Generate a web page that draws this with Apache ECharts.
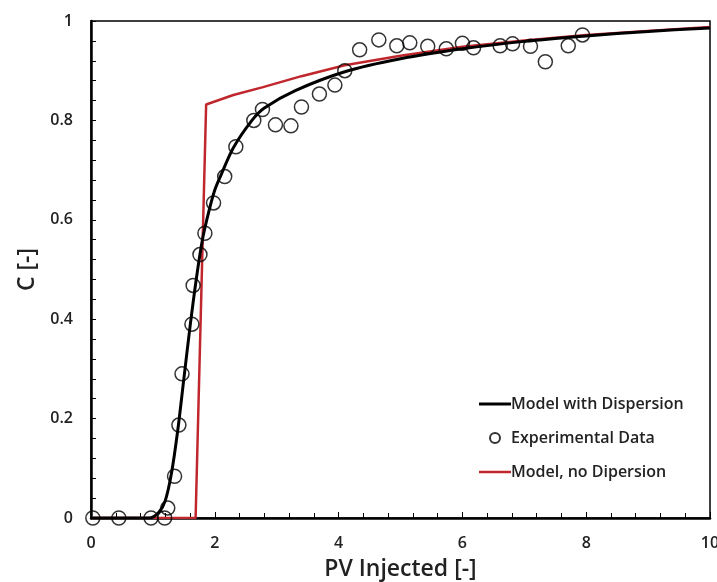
<!DOCTYPE html>
<html>
<head>
<meta charset="utf-8">
<script src="https://cdn.jsdelivr.net/npm/echarts@6/dist/echarts.min.js"></script>
<style>
  html, body { margin: 0; padding: 0; background: #fff; }
  #chart { width: 717px; height: 582px; }
</style>
</head>
<body>
<div id="chart"></div>
<script>
// experimental points
var expX = [0.03, 0.45, 0.97, 1.19, 1.24, 1.35, 1.42, 1.47, 1.63, 1.65, 1.76, 1.84, 1.98, 2.16, 2.34,
            2.63, 2.77, 2.98, 3.23, 3.4, 3.69, 3.94, 4.1, 4.34, 4.65, 4.94, 5.15, 5.44, 5.74, 6.0,
            6.18, 6.61, 6.81, 7.1, 7.34, 7.71, 7.94];
var expC = [0, 0, 0, 0, 0.02, 0.084, 0.187, 0.29, 0.39, 0.468, 0.53, 0.573, 0.634, 0.687, 0.747,
            0.8, 0.822, 0.791, 0.789, 0.827, 0.853, 0.871, 0.9, 0.942, 0.962, 0.95, 0.956, 0.949, 0.944, 0.955,
            0.946, 0.95, 0.954, 0.949, 0.918, 0.95, 0.972];

// model with dispersion
var dispX = [0, 0.95, 1.1, 1.2, 1.3, 1.4, 1.5, 1.6, 1.7, 1.8, 1.9, 2.0, 2.1, 2.3, 2.6, 2.8, 3.3, 4.1, 5, 6, 7, 8, 9, 10];
var dispC = [0, 0, 0.012, 0.035, 0.09, 0.175, 0.28, 0.385, 0.48, 0.56, 0.615, 0.66, 0.69, 0.745, 0.8, 0.825, 0.86, 0.898, 0.924, 0.944, 0.959, 0.97, 0.979, 0.986];

// model without dispersion
var noDispX = [0, 1.69, 1.86, 2.3, 2.78, 3.4, 4.1, 5, 6, 7, 8, 9, 10];
var noDispC = [0, 0, 0.832, 0.851, 0.867, 0.889, 0.911, 0.93, 0.948, 0.961, 0.972, 0.98, 0.988];

function pairs(xs, ys) {
    return xs.map(function (x, i) { return [x, ys[i]]; });
}

var font = '"Open Sans", sans-serif';
var txt = '#222';
var myChart = echarts.init(document.getElementById('chart'));

var option = {
    animation: false,
    grid: {
        left: 91, right: 7, top: 21, bottom: 64,
        outerBoundsMode: 'none',
        show: true,
        borderColor: '#000',
        borderWidth: 1.5
    },
    legend: {
        orient: 'vertical',
        left: 474,
        top: 391,
        itemWidth: 32,
        itemHeight: 10,
        itemGap: 18,
        textStyle: { fontFamily: font, fontSize: 16, fontWeight: 600, color: txt, padding: [0, 0, 0, -5] },
        data: [
            { name: 'Model with Dispersion', icon: 'path://M0,0H32V3H0Z' },
            { name: 'Experimental Data' },
            { name: 'Model, no Dipersion', icon: 'path://M0,0H32V2.5H0Z' }
        ]
    },
    xAxis: {
        type: 'value',
        min: 0, max: 10, interval: 2,
        name: 'PV Injected [-]',
        nameLocation: 'middle',
        nameGap: 40,
        nameTextStyle: { fontFamily: font, fontSize: 23, fontWeight: 600, color: txt },
        axisLine: { show: true, onZero: false, lineStyle: { color: '#000', width: 2.5 } },
        axisTick: { show: true, inside: true, length: 6, lineStyle: { color: '#000', width: 1 } },
        minorTick: { show: true, splitNumber: 5, length: 5, lineStyle: { color: '#000', width: 1 } },
        axisLabel: { fontFamily: font, fontSize: 16, fontWeight: 600, color: txt, margin: 17 },
        splitLine: { show: false }
    },
    yAxis: {
        type: 'value',
        min: 0, max: 1, interval: 0.2,
        name: 'C [-]',
        nameLocation: 'middle',
        nameGap: 47,
        nameTextStyle: { fontFamily: font, fontSize: 23, fontWeight: 600, color: txt },
        axisLine: { show: true, onZero: false, lineStyle: { color: '#000', width: 2.5 } },
        axisTick: { show: true, inside: true, length: 5, lineStyle: { color: '#000', width: 1 } },
        minorTick: { show: true, splitNumber: 5, length: 5, lineStyle: { color: '#000', width: 1 } },
        axisLabel: { fontFamily: font, fontSize: 16, fontWeight: 600, color: txt, margin: 18,
            formatter: function (v) { return String(Math.round(v * 10) / 10); } },
        splitLine: { show: false }
    },
    series: [
        {
            name: 'Model with Dispersion',
            type: 'line',
            smooth: 0.3,
            symbol: 'none',
            lineStyle: { color: '#000', width: 3 },
            itemStyle: { color: '#000' },
            data: pairs(dispX, dispC),
            z: 3
        },
        {
            name: 'Experimental Data',
            type: 'scatter',
            symbol: 'circle',
            symbolSize: 14,
            itemStyle: { color: 'rgba(255,255,255,0)', borderColor: '#000', borderWidth: 1.5 },
            data: pairs(expX, expC),
            z: 4
        },
        {
            name: 'Model, no Dipersion',
            type: 'line',
            symbol: 'none',
            lineStyle: { color: '#c0272d', width: 2.5 },
            itemStyle: { color: '#c0272d' },
            data: pairs(noDispX, noDispC),
            z: 2
        }
    ]
};
myChart.setOption(option);
</script>
</body>
</html>
